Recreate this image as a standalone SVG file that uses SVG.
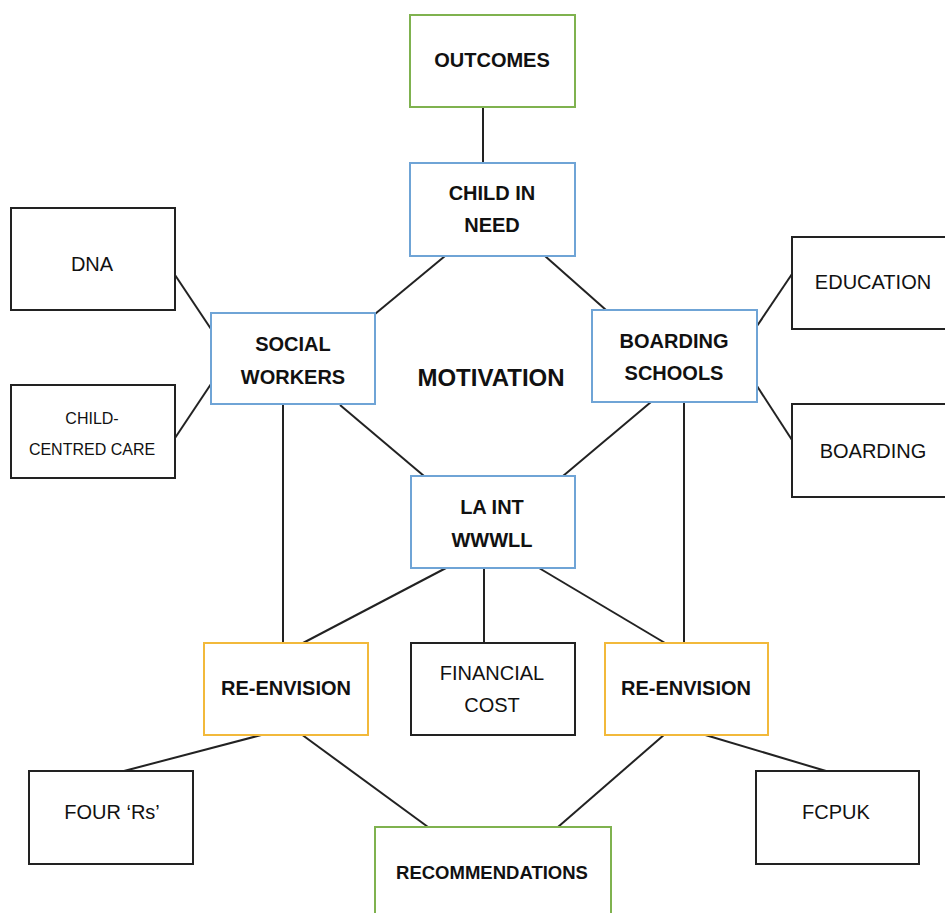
<svg xmlns="http://www.w3.org/2000/svg" width="945" height="913" viewBox="0 0 945 913">
<style>
rect{fill:#fff;stroke-width:2}
.k{stroke:#222}
.g{stroke:#7fb24f}
.b{stroke:#6fa4d6}
.y{stroke:#f2b93b}
text{font-family:"Liberation Sans",Arial,sans-serif;font-size:20px;fill:#111;text-anchor:middle}
.bd{font-weight:bold}
#connectors line{stroke:#222;stroke-width:2}
</style>
<rect x="0" y="0" width="945" height="913" fill="#fff" stroke="none"/>
<g id="connectors">
<line x1="483" y1="107" x2="483" y2="163"/>
<line x1="375" y1="314" x2="445" y2="256"/>
<line x1="606" y1="310" x2="545" y2="256"/>
<line x1="175" y1="275" x2="211" y2="329"/>
<line x1="175" y1="438" x2="211" y2="384"/>
<line x1="757" y1="326" x2="792" y2="274"/>
<line x1="757" y1="386" x2="792" y2="440"/>
<line x1="340" y1="405" x2="424" y2="476"/>
<line x1="651" y1="402" x2="563" y2="476"/>
<line x1="283" y1="404" x2="283" y2="643"/>
<line x1="684" y1="402" x2="684" y2="643"/>
<line x1="446" y1="568" x2="303" y2="643"/>
<line x1="484" y1="568" x2="484" y2="643"/>
<line x1="539" y1="568" x2="665" y2="643"/>
<line x1="265" y1="734" x2="124" y2="771"/>
<line x1="301" y1="734" x2="428" y2="827"/>
<line x1="665" y1="734" x2="558" y2="827"/>
<line x1="702" y1="734" x2="826" y2="771"/>
</g>
<g id="outcomes"><rect class="g" x="410" y="15" width="165" height="92"/><text class="bd" x="492" y="67">OUTCOMES</text></g>
<g id="child-in-need"><rect class="b" x="410" y="163" width="165" height="93"/><text class="bd" x="492" y="200">CHILD IN</text><text class="bd" x="492" y="232">NEED</text></g>
<g id="dna"><rect class="k" x="11" y="208" width="164" height="102"/><text x="92" y="271">DNA</text></g>
<g id="child-centred-care"><rect class="k" x="11" y="385" width="164" height="93"/><text x="92" y="424" style="font-size:16px">CHILD-</text><text x="92" y="455" style="font-size:16px">CENTRED CARE</text></g>
<g id="social-workers"><rect class="b" x="211" y="313" width="164" height="91"/><text class="bd" x="293" y="351">SOCIAL</text><text class="bd" x="293" y="384">WORKERS</text></g>
<g id="motivation"><text class="bd" x="491" y="386" style="font-size:24px">MOTIVATION</text></g>
<g id="boarding-schools"><rect class="b" x="592" y="310" width="165" height="92"/><text class="bd" x="674" y="348">BOARDING</text><text class="bd" x="674" y="380">SCHOOLS</text></g>
<g id="education"><rect class="k" x="792" y="237" width="163" height="92"/><text x="873" y="289">EDUCATION</text></g>
<g id="boarding"><rect class="k" x="792" y="404" width="163" height="93"/><text x="873" y="458">BOARDING</text></g>
<g id="la-int"><rect class="b" x="411" y="476" width="164" height="92"/><text class="bd" x="492" y="514">LA INT</text><text class="bd" x="492" y="547">WWWLL</text></g>
<g id="re-envision-left"><rect class="y" x="204" y="643" width="164" height="92"/><text class="bd" x="286" y="695">RE-ENVISION</text></g>
<g id="financial-cost"><rect class="k" x="411" y="643" width="164" height="92"/><text x="492" y="680">FINANCIAL</text><text x="492" y="712">COST</text></g>
<g id="re-envision-right"><rect class="y" x="605" y="643" width="163" height="92"/><text class="bd" x="686" y="695">RE-ENVISION</text></g>
<g id="four-rs"><rect class="k" x="29" y="771" width="164" height="93"/><text x="112" y="819">FOUR ‘Rs’</text></g>
<g id="fcpuk"><rect class="k" x="756" y="771" width="163" height="93"/><text x="836" y="819">FCPUK</text></g>
<g id="recommendations"><rect class="g" x="375" y="827" width="236" height="100"/><text class="bd" x="492" y="879" style="font-size:18.5px">RECOMMENDATIONS</text></g>
</svg>
